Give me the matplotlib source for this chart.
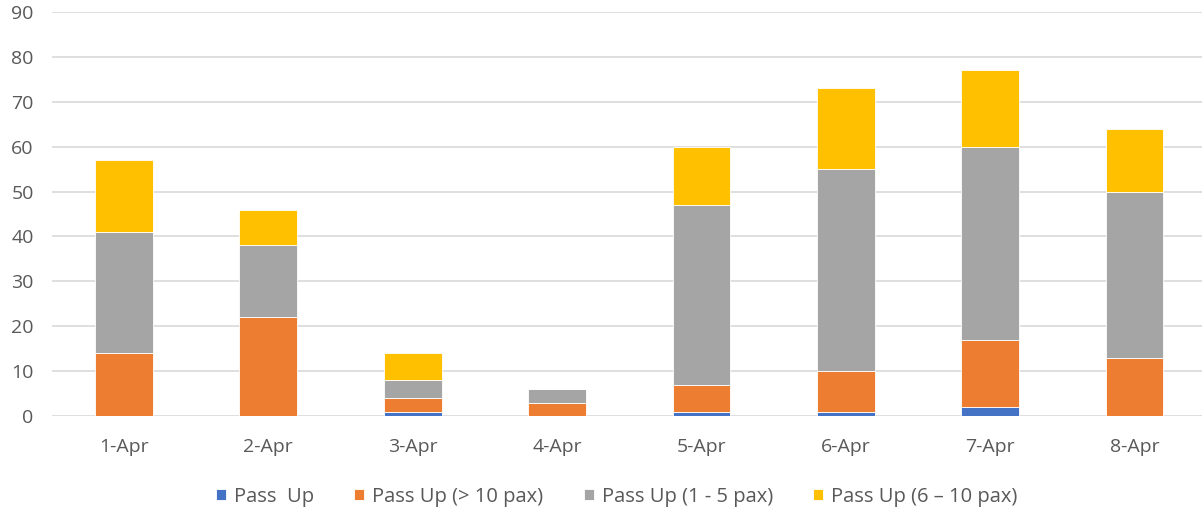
import matplotlib
matplotlib.use("Agg")
import matplotlib.pyplot as plt
import numpy as np

days = ["1-Apr", "2-Apr", "3-Apr", "4-Apr", "5-Apr", "6-Apr", "7-Apr", "8-Apr"]
pass_up = [0, 0, 1, 0, 1, 1, 2, 0]
pass_up_gt10 = [14, 22, 3, 3, 6, 9, 15, 13]
pass_up_1_5 = [27, 16, 4, 3, 40, 45, 43, 37]
pass_up_6_10 = [16, 8, 6, 0, 13, 18, 17, 14]

series = [
    ("Pass  Up", pass_up, "#4472c4"),
    ("Pass Up (> 10 pax)", pass_up_gt10, "#ed7d31"),
    ("Pass Up (1 - 5 pax)", pass_up_1_5, "#a5a5a5"),
    ("Pass Up (6 \u2013 10 pax)", pass_up_6_10, "#ffc000"),
]

plt.rcParams['font.family'] = ['Open Sans', 'DejaVu Sans']

fig = plt.figure(figsize=(12.02, 5.16), dpi=100)
# plot area runs a little past the right edge, like the source sheet
ax = fig.add_axes([0.043, 0.1938, 0.961, 0.7829])

x = np.arange(len(days))
bottom = np.zeros(len(days))
for label, vals, color in series:
    vals = np.array(vals, dtype=float)
    ax.bar(x, vals, width=0.4, bottom=bottom, color=color, label=label,
           edgecolor="white", linewidth=0.6, zorder=3)
    bottom += vals

ax.set_ylim(0, 90)
ax.set_yticks(range(0, 91, 10))
ax.set_xlim(-0.5, len(days) - 0.5)
ax.set_xticks(x)
ax.set_xticklabels(days)
ax.yaxis.grid(True, color="#d9d9d9", linewidth=1.2, zorder=0)
for s in ax.spines.values():
    s.set_visible(False)
ax.tick_params(axis="both", length=0, labelsize=14, colors="#595959")
ax.tick_params(axis="x", pad=16)
ax.tick_params(axis="y", pad=13)

fig.legend(loc="center", ncol=4, frameon=False, fontsize=14.5,
           bbox_to_anchor=(0.513, 0.037), handlelength=0.5, handleheight=0.5,
           handletextpad=0.4, columnspacing=2.0, labelcolor="#595959")

fig.savefig("out.png", dpi=100)
